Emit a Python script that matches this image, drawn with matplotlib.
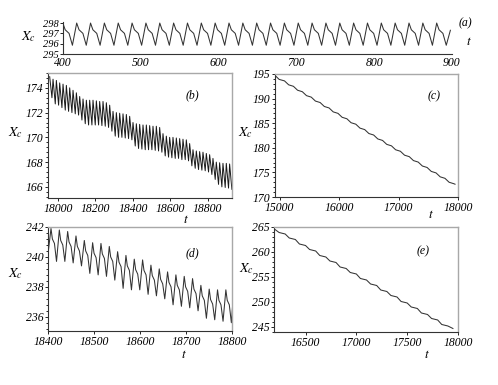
import numpy as np
import matplotlib.pyplot as plt
from matplotlib.ticker import AutoMinorLocator, FixedLocator

plt.rcParams['font.family'] = ['Liberation Serif', 'DejaVu Serif']
plt.rcParams['font.style'] = 'italic'
plt.rcParams['mathtext.fontset'] = 'stix'

# ---- panel (a): periodic regime, t = 400..900 ----
a_peak_t = [399.8, 417.6, 435.4, 453.2, 471.0, 488.8, 506.6, 524.4, 542.2, 560.0,
            577.8, 595.6, 613.4, 631.2, 649.0, 666.8, 684.6, 702.4, 720.2, 738.0,
            755.8, 773.6, 791.4, 809.2, 827.0, 844.8, 862.6, 880.4]
a_sh1_t = [402.8, 420.6, 438.4, 456.2, 474.0, 491.8, 509.6, 527.4, 545.2, 563.0,
           580.8, 598.6, 616.4, 634.2, 652.0, 669.8, 687.6, 705.4, 723.2, 741.0,
           758.8, 776.6, 794.4, 812.2, 830.0, 847.8, 865.6, 883.4]
a_sh2_t = [407.8, 425.6, 443.4, 461.2, 479.0, 496.8, 514.6, 532.4, 550.2, 568.0,
           585.8, 603.6, 621.4, 639.2, 657.0, 674.8, 692.6, 710.4, 728.2, 746.0,
           763.8, 781.6, 799.4, 817.2, 835.0, 852.8, 870.6, 888.4]
a_trough_t = [412.1, 429.9, 447.7, 465.5, 483.3, 501.1, 518.9, 536.7, 554.5, 572.3,
              590.1, 607.9, 625.7, 643.5, 661.3, 679.1, 696.9, 714.7, 732.5, 750.3,
              768.1, 785.9, 803.7, 821.5, 839.3, 857.1, 874.9, 892.7]
a_peak_x, a_sh1_x, a_sh2_x, a_trough_x = 298.0, 297.35, 297.0, 295.85
a_end = (898.0, 297.3)

# ---- panel (b): t = 17950..18930 ----
b_peak_t = [17956.0, 17973.8, 17991.6, 18009.4, 18027.2, 18045.0, 18062.8, 18080.6, 18098.4, 18116.2,
            18134.0, 18151.8, 18169.6, 18187.4, 18205.2, 18223.0, 18240.8, 18258.6, 18276.4, 18294.2,
            18312.0, 18329.8, 18347.6, 18365.4, 18383.2, 18401.0, 18418.8, 18436.6, 18454.4, 18472.2,
            18490.0, 18507.8, 18525.6, 18543.4, 18561.2, 18579.0, 18596.8, 18614.6, 18632.4, 18650.2,
            18668.0, 18685.8, 18703.6, 18721.4, 18739.2, 18757.0, 18774.8, 18792.6, 18810.4, 18828.2,
            18846.0, 18863.8, 18881.6, 18899.4, 18917.2]
b_trough_t = [17968.0, 17985.8, 18003.6, 18021.4, 18039.2, 18057.0, 18074.8, 18092.6, 18110.4, 18128.2,
              18146.0, 18163.8, 18181.6, 18199.4, 18217.2, 18235.0, 18252.8, 18270.6, 18288.4, 18306.2,
              18324.0, 18341.8, 18359.6, 18377.4, 18395.2, 18413.0, 18430.8, 18448.6, 18466.4, 18484.2,
              18502.0, 18519.8, 18537.6, 18555.4, 18573.2, 18591.0, 18608.8, 18626.6, 18644.4, 18662.2,
              18680.0, 18697.8, 18715.6, 18733.4, 18751.2, 18769.0, 18786.8, 18804.6, 18822.4, 18840.2,
              18858.0, 18875.8, 18893.6, 18911.4, 18929.2]
b_peak_x = [174.9, 174.7, 174.6, 174.4, 174.3, 174.2, 174.0, 173.8, 173.6, 173.3,
            173.1, 173.0, 173.0, 173.0, 172.95, 172.9, 172.9, 172.8, 172.6, 172.1,
            172.0, 171.95, 171.9, 171.85, 171.7, 171.2, 171.1, 171.05, 171.0, 171.0,
            170.95, 170.9, 170.9, 170.8, 170.3, 170.1, 170.0, 170.0, 169.95, 169.9,
            169.85, 169.8, 169.5, 169.0, 168.9, 168.85, 168.8, 168.7, 168.6, 168.3,
            168.0, 167.95, 167.9, 167.9, 167.85]
b_trough_x = [173.2, 172.7, 172.6, 172.4, 172.2, 172.1, 172.0, 171.9, 171.8, 171.4,
              171.1, 171.0, 171.0, 171.0, 171.0, 170.95, 170.9, 170.8, 170.5, 170.1,
              170.0, 170.0, 169.95, 169.9, 169.8, 169.3, 169.1, 169.05, 169.0, 169.0,
              169.0, 168.95, 168.9, 168.8, 168.5, 168.4, 168.35, 168.3, 168.3, 168.2,
              168.2, 168.1, 167.7, 167.5, 167.4, 167.35, 167.3, 167.2, 167.0, 166.6,
              166.2, 166.0, 165.95, 165.9, 165.8]

# ---- panel (c): t = 14920..18000, slow staircase ----
c_t = [14930, 14990, 15080, 15150, 15230, 15300, 15380, 15450, 15530, 15600, 15680, 15750,
       15830, 15900, 15980, 16050, 16130, 16200, 16280, 16350, 16430, 16500, 16580, 16650,
       16730, 16800, 16880, 16950, 17030, 17100, 17180, 17250, 17330, 17400, 17480, 17550,
       17630, 17700, 17780, 17850, 17930, 17950]
c_x = [194.6, 193.9, 193.6, 192.8, 192.5, 191.7, 191.4, 190.6, 190.3, 189.5, 189.2, 188.4,
       188.1, 187.3, 187.0, 186.2, 185.9, 185.1, 184.8, 184.0, 183.7, 182.9, 182.6, 181.8,
       181.5, 180.7, 180.4, 179.6, 179.3, 178.5, 178.2, 177.4, 177.1, 176.3, 176.0, 175.2,
       174.9, 174.1, 173.8, 173.0, 172.7, 172.6]

# ---- panel (d): t = 18400..18800 ----
d_peak_t = [18406.5, 18424.6, 18442.7, 18460.8, 18478.9, 18497.0, 18515.1, 18533.2, 18551.3, 18569.4, 18587.5,
            18605.6, 18623.7, 18641.8, 18659.9, 18678.0, 18696.1, 18714.2, 18732.3, 18750.4, 18768.5, 18786.6]
d_sh1_t = [18409.5, 18427.6, 18445.7, 18463.8, 18481.9, 18500.0, 18518.1, 18536.2, 18554.3, 18572.4, 18590.5,
           18608.6, 18626.7, 18644.8, 18662.9, 18681.0, 18699.1, 18717.2, 18735.3, 18753.4, 18771.5, 18789.6]
d_sh2_t = [18414.0, 18432.1, 18450.2, 18468.3, 18486.4, 18504.5, 18522.6, 18540.7, 18558.8, 18576.9, 18595.0,
           18613.1, 18631.2, 18649.3, 18667.4, 18685.5, 18703.6, 18721.7, 18739.8, 18757.9, 18776.0, 18794.1]
d_trough_t = [18418.5, 18436.6, 18454.7, 18472.8, 18490.9, 18509.0, 18527.1, 18545.2, 18563.3, 18581.4, 18599.5,
              18617.6, 18635.7, 18653.8, 18671.9, 18690.0, 18708.1, 18726.2, 18744.3, 18762.4, 18780.5, 18798.6]
d_peak_x = [241.9, 241.8, 241.7, 241.4, 241.1, 240.95, 240.9, 240.7, 240.35, 240.1, 239.85,
            239.8, 239.45, 239.2, 239.0, 238.8, 238.7, 238.55, 238.1, 237.85, 237.8, 237.8]
d_sh1_x = [241.2, 241.1, 241.0, 240.7, 240.4, 240.25, 240.2, 240.0, 239.65, 239.4, 239.15,
           239.1, 238.75, 238.5, 238.3, 238.1, 238.0, 237.85, 237.4, 237.15, 237.1, 237.1]
d_sh2_x = [240.9, 240.8, 240.7, 240.4, 240.1, 239.95, 239.9, 239.7, 239.35, 239.1, 238.85,
           238.8, 238.45, 238.2, 238.0, 237.8, 237.7, 237.55, 237.1, 236.85, 236.8, 236.8]
d_trough_x = [239.7, 239.7, 239.6, 239.4, 238.9, 238.8, 238.7, 238.45, 237.9, 237.8, 237.8,
              237.5, 237.4, 237.2, 236.8, 236.7, 236.6, 236.4, 235.9, 235.8, 235.7, 235.6]
d_start = (18400.0, 240.2)
d_end = (18804.0, 237.9)

# ---- panel (e): t = 16190..18000, slow staircase ----
e_t = [16200, 16240, 16300, 16340, 16400, 16440, 16500, 16540, 16600, 16640, 16700, 16740,
       16800, 16840, 16900, 16940, 17000, 17040, 17100, 17140, 17200, 17240, 17300, 17340,
       17400, 17440, 17500, 17540, 17600, 17640, 17700, 17740, 17800, 17840, 17900, 17950]
e_x = [264.5, 263.9, 263.6, 262.8, 262.5, 261.6, 261.3, 260.5, 260.2, 259.3, 259.0, 258.2,
       257.9, 257.0, 256.7, 255.9, 255.6, 254.7, 254.4, 253.6, 253.3, 252.4, 252.1, 251.3,
       251.0, 250.1, 249.8, 249.0, 248.7, 247.8, 247.5, 246.7, 246.4, 245.5, 245.2, 244.7]


def zigzag(*cols):
    return np.column_stack(cols).ravel()


line_kw = dict(color='#333333', lw=0.75)
fig = plt.figure(figsize=(4.98, 3.85), dpi=100)


def style(ax, left_only=False):
    ax.tick_params(which='both', direction='out', labelsize=8.5, pad=1, width=0.6)
    ax.tick_params(which='major', length=2.5)
    ax.tick_params(which='minor', length=1.3)
    ax.yaxis.set_minor_locator(AutoMinorLocator(5))
    for s in ('left', 'bottom'):
        ax.spines[s].set_color('#333333')
        ax.spines[s].set_linewidth(0.8)
    for s in ('top', 'right'):
        if left_only:
            ax.spines[s].set_visible(False)
        else:
            ax.spines[s].set_color('#a8a8a8')
            ax.spines[s].set_linewidth(1.0)


def label(ax, x, y, s, size):
    ax.text(x, y, s, transform=ax.transAxes, fontsize=size, ha='center', va='center')


# (a)
ax = fig.add_axes([0.1265, 0.8597, 0.781, 0.0831])
n = len(a_peak_t)
ta = zigzag(a_peak_t, a_sh1_t, a_sh2_t, a_trough_t)
xa = zigzag([a_peak_x] * n, [a_sh1_x] * n, [a_sh2_x] * n, [a_trough_x] * n)
ta = np.append(ta, a_end[0])
xa = np.append(xa, a_end[1])
ax.plot(ta, xa, **line_kw)
ax.set_xlim(400, 900)
ax.set_ylim(295, 298.1)
ax.set_yticks([295, 296, 297, 298])
ax.set_xticks([400, 500, 600, 700, 800, 900])
style(ax, left_only=True)
ax.yaxis.set_minor_locator(FixedLocator([]))
ax.tick_params(axis='x', length=0, pad=2)
ax.tick_params(axis='y', labelsize=7.5, pad=0.5)
label(ax, -0.088, 0.55, r'$X_c$', 10)
label(ax, 1.045, 0.38, r'$t$', 9.5)
label(ax, 1.035, 0.95, '(a)', 8.5)

# (b)
ax = fig.add_axes([0.0964, 0.4857, 0.3695, 0.3247])
ax.plot(zigzag(b_peak_t, b_trough_t), zigzag(b_peak_x, b_trough_x), color='#1a1a1a', lw=0.7)
ax.set_xlim(17947, 18930)
ax.set_ylim(165.1, 175.2)
ax.set_yticks([166, 168, 170, 172, 174])
ax.set_xticks([18000, 18200, 18400, 18600, 18800])
style(ax)
label(ax, -0.175, 0.52, r'$X_c$', 10)
label(ax, 0.75, -0.175, r'$t$', 9.5)
label(ax, 0.785, 0.82, '(b)', 8.5)

# (c)
ax = fig.add_axes([0.5522, 0.4883, 0.3675, 0.3195])
ax.plot(c_t, c_x, **line_kw)
ax.set_xlim(14920, 18000)
ax.set_ylim(170, 195)
ax.set_yticks([170, 175, 180, 185, 190, 195])
ax.set_xticks([15000, 16000, 17000, 18000])
style(ax)
label(ax, -0.16, 0.52, r'$X_c$', 10)
label(ax, 0.85, -0.15, r'$t$', 9.5)
label(ax, 0.87, 0.82, '(c)', 8.5)

# (d)
ax = fig.add_axes([0.0964, 0.1403, 0.3695, 0.2701])
td = np.concatenate([[d_start[0]], zigzag(d_peak_t, d_sh1_t, d_sh2_t, d_trough_t), [d_end[0]]])
xd = np.concatenate([[d_start[1]], zigzag(d_peak_x, d_sh1_x, d_sh2_x, d_trough_x), [d_end[1]]])
ax.plot(td, xd, **line_kw)
ax.set_xlim(18400, 18800)
ax.set_ylim(235.05, 242)
ax.set_yticks([236, 238, 240, 242])
ax.set_xticks([18400, 18500, 18600, 18700, 18800])
style(ax)
label(ax, -0.175, 0.55, r'$X_c$', 10)
label(ax, 0.74, -0.23, r'$t$', 9.5)
label(ax, 0.785, 0.75, '(d)', 8.5)

# (e)
ax = fig.add_axes([0.5502, 0.1377, 0.3695, 0.2727])
ax.plot(e_t, e_x, **line_kw)
ax.set_xlim(16190, 18000)
ax.set_ylim(244, 265)
ax.set_yticks([245, 250, 255, 260, 265])
ax.set_xticks([16500, 17000, 17500, 18000])
style(ax)
label(ax, -0.15, 0.6, r'$X_c$', 10)
label(ax, 0.83, -0.22, r'$t$', 9.5)
label(ax, 0.81, 0.77, '(e)', 8.5)

fig.savefig('out.png', dpi=100)
